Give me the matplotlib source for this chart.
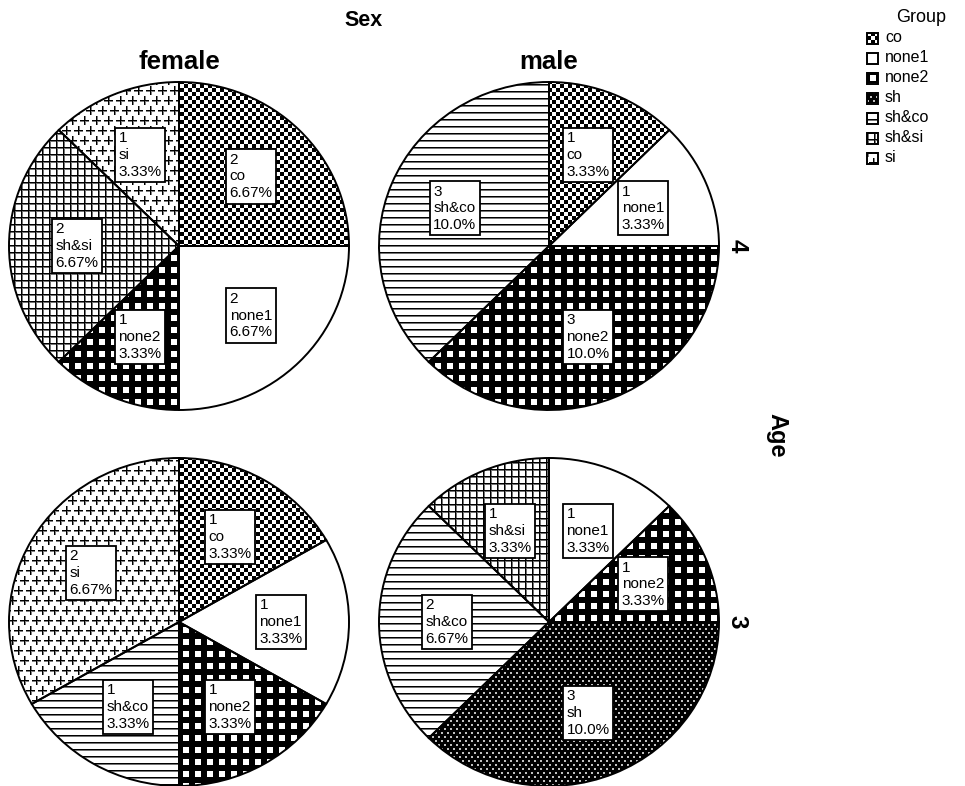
import numpy as np
import matplotlib
matplotlib.use("Agg")
import matplotlib.pyplot as plt
from matplotlib.patches import Rectangle

plt.rcParams['font.family'] = ['Liberation Sans', 'DejaVu Sans']

# ---------------- data ----------------
groups = ['co', 'none1', 'none2', 'sh', 'sh&co', 'sh&si', 'si']
sexes = ['female', 'male']
ages = ['4', '3']
counts_female_4 = [2, 2, 1, 0, 0, 2, 1]
counts_male_4 = [1, 1, 3, 0, 3, 0, 0]
counts_female_3 = [1, 1, 1, 0, 1, 0, 2]
counts_male_3 = [0, 1, 1, 3, 2, 1, 0]

panels = {
    ('female', '4'): counts_female_4,
    ('male', '4'): counts_male_4,
    ('female', '3'): counts_female_3,
    ('male', '3'): counts_male_3,
}
total = sum(sum(v) for v in panels.values())

# ---------------- layout (pixels) ----------------
W, H = 965, 786
col_cx = {'female': 179, 'male': 549}
row_cy = {'4': 246, '3': 622}
RX, RY = 170, 164
LABEL_R = 0.6


def pattern(name, rr, cc):
    v = np.zeros(rr.shape, dtype=float)
    if name == 'co':
        v = ((rr // 4 + cc // 4) % 2).astype(float)
    elif name == 'none2':
        v[:] = 1
        hole = ((rr % 12) >= 3) & ((rr % 12) < 9) & ((cc % 12) >= 3) & ((cc % 12) < 9)
        v[hole] = 0
    elif name == 'sh':
        v[:] = 1
        a = ((rr % 8) < 2) & ((cc % 6) < 2)
        b = (((rr + 4) % 8) < 2) & (((cc + 3) % 6) < 2)
        v[a | b] = 0.25
    elif name == 'sh&co':
        v[rr % 7 == 0] = 1
        v[rr % 7 == 1] = 0.55
    elif name == 'sh&si':
        v[(rr % 7 == 1) | (cc % 7 == 1)] = 0.55
        v[(rr % 7 == 0) | (cc % 7 == 0)] = 1
    elif name == 'si':
        for oy, ox in [(0, 0), (10, 6)]:
            dy = (rr - oy) % 20
            dy = np.where(dy > 10, dy - 20, dy)
            dx = (cc - ox) % 12
            dx = np.where(dx > 6, dx - 12, dx)
            plus = ((dy == 0) & (np.abs(dx) <= 4)) | ((dx == 0) & (np.abs(dy) <= 4))
            soft = (((dy == 1) & (np.abs(dx) <= 4)) | ((dx == 1) & (np.abs(dy) <= 4)))
            v[soft] = np.maximum(v[soft], 0.5)
            v[plus] = 1
    return 1 - v


fig = plt.figure(figsize=(W / 100, H / 100), dpi=100)

for (sex, age), counts in panels.items():
    cx, cy = col_cx[sex], row_cy[age]
    x0, y0 = cx - RX, cy - RY
    ax = fig.add_axes([x0 / W, 1 - (y0 + 2 * RY) / H, 2 * RX / W, 2 * RY / H])
    vals = [c for c in counts if c > 0]
    labs = [g for g, c in zip(groups, counts) if c > 0]
    wedges, _ = ax.pie(vals, startangle=90, counterclock=False, radius=1,
                       wedgeprops=dict(facecolor='none', edgecolor='black',
                                       linewidth=1.4))
    rr, cc = np.mgrid[y0:y0 + 2 * RY, x0:x0 + 2 * RX]
    for w, g, c in zip(wedges, labs, vals):
        img = pattern(g, rr, cc)
        im = ax.imshow(img, cmap='gray', vmin=0, vmax=1, extent=(-1, 1, -1, 1),
                       origin='upper', interpolation='nearest', zorder=1,
                       aspect='auto', resample=False)
        im.set_clip_path(w)
        w.set_zorder(3)
        w.set_clip_on(False)
        mid = np.radians((w.theta1 + w.theta2) / 2)
        ax.text(LABEL_R * np.cos(mid), LABEL_R * np.sin(mid),
                f"{c}\n{g}\n{100 * c / total:#.3g}%",
                ha='center', va='center', multialignment='left', fontsize=11,
                zorder=5, linespacing=1.25,
                bbox=dict(boxstyle='square,pad=0.22', fc='white', ec='black', lw=1.3))
    ax.set_aspect('auto')
    ax.set_xlim(-1, 1)
    ax.set_ylim(-1, 1)
    ax.axis('off')

# ---------------- overlay: strip labels and legend ----------------
ov = fig.add_axes([0, 0, 1, 1])
ov.set_xlim(0, W)
ov.set_ylim(H, 0)
ov.set_facecolor('none')
ov.axis('off')

ov.text(364, 20, 'Sex', ha='center', va='center', fontsize=15.5, fontweight='bold')
for sex in sexes:
    ov.text(col_cx[sex], 62, sex, ha='center', va='center', fontsize=18.5,
            fontweight='bold')
for age in ages:
    ov.text(737, row_cy[age], age, ha='center', va='center', fontsize=17.5,
            fontweight='bold', rotation=-90)
ov.text(777, 435, 'Age', ha='center', va='center', fontsize=17,
        fontweight='bold', rotation=-90)

ov.text(921, 17, 'Group', ha='center', va='center', fontsize=13)
K = 11
for i, g in enumerate(groups):
    yc = 38 + 20 * i
    kx0, ky0 = 867, yc - K / 2
    lr, lc = np.mgrid[0:K, 0:K]
    img = pattern(g, lr, lc)
    ov.imshow(img, cmap='gray', vmin=0, vmax=1,
              extent=(kx0, kx0 + K, ky0 + K, ky0), origin='upper',
              interpolation='nearest', aspect='auto', zorder=1)
    ov.add_patch(Rectangle((kx0, ky0), K, K, fill=False, ec='black', lw=1.4,
                           zorder=2))
    ov.text(885, yc, g, ha='left', va='center', fontsize=11.5)
ov.set_xlim(0, W)
ov.set_ylim(H, 0)

fig.savefig('out.png', dpi=100)
